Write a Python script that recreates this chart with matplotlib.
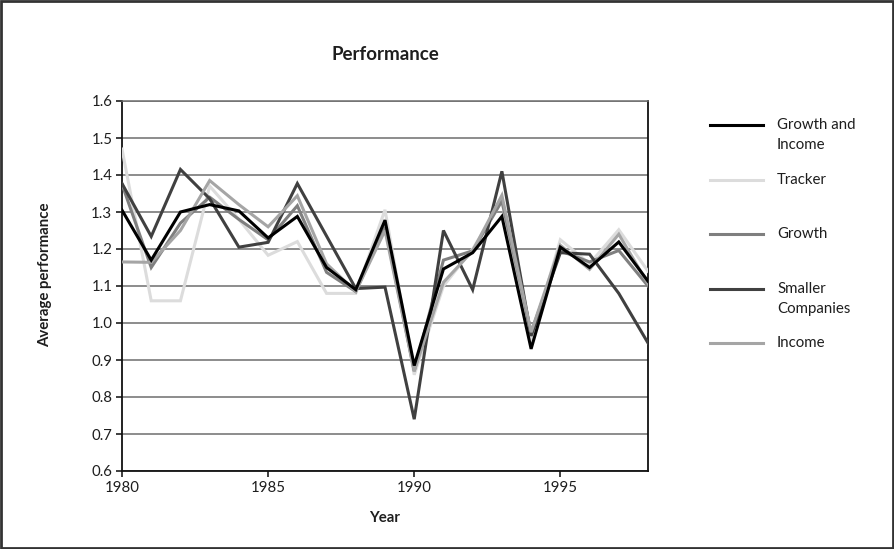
import matplotlib
matplotlib.use("Agg")
import matplotlib.pyplot as plt
from matplotlib.patches import Rectangle
from matplotlib.lines import Line2D

plt.rcParams['font.family'] = ['Lato', 'DejaVu Sans']

years = list(range(1980, 1999))

growth_income = [1.305, 1.17, 1.30, 1.32, 1.303, 1.23, 1.288, 1.15, 1.09, 1.278, 0.885,
                 1.146, 1.19, 1.288, 0.93, 1.205, 1.15, 1.219, 1.113]
tracker = [1.47, 1.06, 1.06, 1.37, 1.28, 1.183, 1.22, 1.08, 1.08, 1.306, 0.86,
           1.10, 1.20, 1.33, 0.95, 1.225, 1.16, 1.252, 1.14]
growth = [1.375, 1.15, 1.27, 1.34, 1.28, 1.225, 1.317, 1.137, 1.085, 1.26, 0.87,
          1.17, 1.195, 1.33, 0.975, 1.195, 1.165, 1.196, 1.10]
smaller = [1.377, 1.234, 1.415, 1.336, 1.205, 1.218, 1.377, 1.235, 1.093, 1.097, 0.74,
           1.25, 1.09, 1.41, 0.965, 1.19, 1.186, 1.08, 0.946]
income = [1.165, 1.164, 1.25, 1.385, 1.32, 1.26, 1.344, 1.16, 1.085, 1.25, 0.87,
          1.11, 1.195, 1.345, 0.975, 1.21, 1.145, 1.24, 1.106]

series_names = [["Growth and", "Income"], ["Tracker"], ["Growth"], ["Smaller", "Companies"], ["Income"]]
series_values = [growth_income, tracker, growth, smaller, income]
colors = ["#000000", "#dcdcdc", "#7f7f7f", "#404040", "#a5a5a5"]
zorders = [10, 3, 4, 5, 6]

x_ticks = [1980, 1985, 1990, 1995]
y_ticks = [0.6, 0.7, 0.8, 0.9, 1.0, 1.1, 1.2, 1.3, 1.4, 1.5, 1.6]

W, H = 894, 549
fig = plt.figure(figsize=(W / 100, H / 100), dpi=100)
ax = fig.add_axes([122 / W, 1 - 471 / H, (648 - 122) / W, (471 - 101) / H])

for vals, c, z in zip(series_values, colors, zorders):
    ax.plot(years, vals, color=c, lw=2.2, zorder=z, solid_joinstyle='miter')

ax.set_xlim(1980, 1998)
ax.set_ylim(0.6, 1.6)
ax.set_xticks(x_ticks)
ax.set_yticks(y_ticks)
ax.set_yticklabels([f"{v:.1f}" for v in y_ticks])
ax.tick_params(axis='both', labelsize=10.8, colors='#1e1e1e', length=4, width=1.2, direction='out')
ax.tick_params(axis='y', pad=3)
ax.tick_params(axis='x', pad=3)
ax.yaxis.grid(True, color='#6e6e6e', lw=1.1, zorder=1)
ax.set_axisbelow(True)
for s in ['left', 'bottom', 'right']:
    ax.spines[s].set_color('#111111')
    ax.spines[s].set_linewidth(1.3)
ax.spines['top'].set_color('#6e6e6e')
ax.spines['top'].set_linewidth(1.1)

ax.set_xlabel("Year", fontsize=10.8, fontweight='bold', color='#1e1e1e')
ax.xaxis.set_label_coords(0.5, -(518 - 471) / 370, transform=ax.transAxes)
ax.xaxis.label.set_va('center')
ax.set_ylabel("Average performance", fontsize=10.8, fontweight='bold', color='#1e1e1e')
ax.yaxis.set_label_coords(-(122 - 45) / 526, (471 - 275) / 370, transform=ax.transAxes)
ax.yaxis.label.set_va('center')

fig.text(385 / W, 1 - 55 / H, "Performance", ha='center', va='center',
         fontsize=13.5, fontweight='bold', color='#1e1e1e')

# legend
leg_y = [125, 180, 234, 289, 343]
for lines, c, y in zip(series_names, colors, leg_y):
    fig.add_artist(Line2D([710 / W, 763 / W], [1 - y / H, 1 - y / H], color=c, lw=2.2,
                          transform=fig.transFigure))
    for k, txt in enumerate(lines):
        fig.text(777 / W, 1 - (y + 20 * k) / H, txt, ha='left', va='center', fontsize=10.8,
                 color='#1e1e1e')

fig.add_artist(Rectangle((0.001, 0.001), 0.998, 0.997, transform=fig.transFigure,
                         fill=False, edgecolor='#333333', lw=2))

fig.savefig("out.png", dpi=100)
